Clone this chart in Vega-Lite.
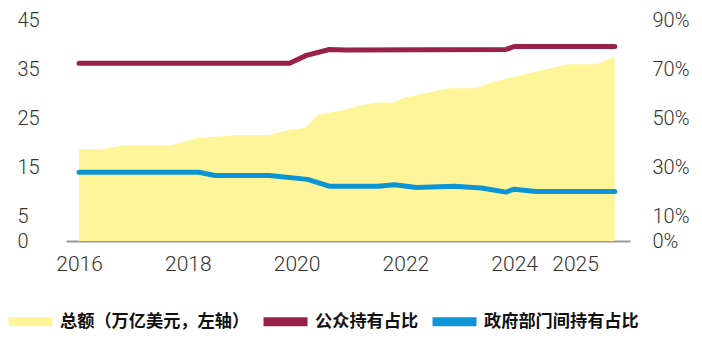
{
  "$schema": "https://vega.github.io/schema/vega-lite/v6.json",
  "width": 564,
  "height": 221,
  "autosize": "none",
  "padding": {"left": 66, "top": 20, "right": 72, "bottom": 98},
  "background": "white",
  "config": {
    "view": {"stroke": null},
    "axis": {"grid": false, "ticks": false, "title": null, "labelFont": "Roboto", "labelFontWeight": 300, "labelFontSize": 20, "labelColor": "#333333"},
    "legend": {
      "orient": "none", "legendX": -62, "legendY": 275, "direction": "horizontal",
      "symbolType": "stroke", "symbolSize": 1936, "symbolStrokeWidth": 9,
      "labelFont": "Noto Sans CJK SC", "labelFontSize": 17.2, "labelFontWeight": "bold", "labelColor": "#111111",
      "labelOffset": 3, "columnPadding": -5, "labelLimit": 400, "padding": 0
    }
  },
  "layer": [
    {
      "data": {"values": [
        {"year": 2016.0, "total": 18.7},
        {"year": 2016.42, "total": 18.7},
        {"year": 2016.8, "total": 19.5},
        {"year": 2017.7, "total": 19.5},
        {"year": 2018.15, "total": 20.9},
        {"year": 2018.9, "total": 21.6},
        {"year": 2019.5, "total": 21.6},
        {"year": 2019.85, "total": 22.6},
        {"year": 2020.15, "total": 23.0},
        {"year": 2020.4, "total": 25.7},
        {"year": 2020.9, "total": 26.8},
        {"year": 2021.2, "total": 27.7},
        {"year": 2021.5, "total": 28.2},
        {"year": 2021.8, "total": 28.2},
        {"year": 2021.95, "total": 29.1},
        {"year": 2022.8, "total": 31.1},
        {"year": 2023.3, "total": 31.1},
        {"year": 2023.6, "total": 32.4},
        {"year": 2024.4, "total": 34.5},
        {"year": 2025.0, "total": 36.0},
        {"year": 2025.5, "total": 36.0},
        {"year": 2025.85, "total": 37.5}
      ]},
      "mark": {"type": "area", "opacity": 1},
      "encoding": {
        "x": {"field": "year", "type": "quantitative", "scale": {"domain": [2015.76, 2026.13], "nice": false, "zero": false},
          "axis": {"orient": "bottom", "values": [2016, 2018, 2020, 2022, 2024, 2025.12], "format": "d", "domainColor": "#999999", "domainWidth": 2, "labelPadding": 12, "labelFontSize": 21}},
        "y": {"field": "total", "type": "quantitative", "scale": {"domain": [0, 45], "nice": false},
          "axis": {"orient": "left", "values": [0, 5, 15, 25, 35, 45], "domain": false, "labelAlign": "left", "labelPadding": 49}},
        "color": {"datum": "总额（万亿美元，左轴）", "type": "nominal",
          "scale": {"domain": ["总额（万亿美元，左轴）", "公众持有占比", "政府部门间持有占比"], "range": ["#FEF59B", "#9A2248", "#0C95D4"]},
          "legend": {
            "title": null,
            "encode": {"symbols": {"update": {"stroke": {"scale": "color", "field": "value"}, "fill": {"value": "transparent"}, "strokeWidth": {"value": 9}, "shape": {"value": "stroke"}, "size": {"value": 1936}, "opacity": {"value": 1}}}}
          }}
      }
    },
    {
      "data": {"values": [
        {"year": 2016.0, "series": "公众持有占比", "pct": 0.724},
        {"year": 2019.87, "series": "公众持有占比", "pct": 0.724},
        {"year": 2020.18, "series": "公众持有占比", "pct": 0.756},
        {"year": 2020.6, "series": "公众持有占比", "pct": 0.780},
        {"year": 2020.92, "series": "公众持有占比", "pct": 0.778},
        {"year": 2023.85, "series": "公众持有占比", "pct": 0.780},
        {"year": 2024.0, "series": "公众持有占比", "pct": 0.792},
        {"year": 2025.85, "series": "公众持有占比", "pct": 0.792},
        {"year": 2016.0, "series": "政府部门间持有占比", "pct": 0.280},
        {"year": 2018.2, "series": "政府部门间持有占比", "pct": 0.280},
        {"year": 2018.5, "series": "政府部门间持有占比", "pct": 0.267},
        {"year": 2019.5, "series": "政府部门间持有占比", "pct": 0.267},
        {"year": 2020.2, "series": "政府部门间持有占比", "pct": 0.251},
        {"year": 2020.6, "series": "政府部门间持有占比", "pct": 0.223},
        {"year": 2021.5, "series": "政府部门间持有占比", "pct": 0.223},
        {"year": 2021.8, "series": "政府部门间持有占比", "pct": 0.229},
        {"year": 2022.2, "series": "政府部门间持有占比", "pct": 0.218},
        {"year": 2022.9, "series": "政府部门间持有占比", "pct": 0.223},
        {"year": 2023.4, "series": "政府部门间持有占比", "pct": 0.216},
        {"year": 2023.85, "series": "政府部门间持有占比", "pct": 0.199},
        {"year": 2024.0, "series": "政府部门间持有占比", "pct": 0.211},
        {"year": 2024.4, "series": "政府部门间持有占比", "pct": 0.202},
        {"year": 2025.85, "series": "政府部门间持有占比", "pct": 0.202}
      ]},
      "mark": {"type": "line", "strokeWidth": 5, "strokeCap": "round", "strokeJoin": "round"},
      "encoding": {
        "x": {"field": "year", "type": "quantitative"},
        "y": {"field": "pct", "type": "quantitative", "scale": {"domain": [0, 0.9], "nice": false},
          "axis": {"orient": "right", "values": [0, 0.1, 0.3, 0.5, 0.7, 0.9], "format": ".0%", "domain": false, "labelAlign": "left", "labelPadding": 22}},
        "color": {"field": "series", "type": "nominal",
          "legend": {
            "title": null,
            "encode": {"symbols": {"update": {"stroke": {"scale": "color", "field": "value"}, "fill": {"value": "transparent"}, "strokeWidth": {"value": 9}, "shape": {"value": "stroke"}, "size": {"value": 1936}, "opacity": {"value": 1}}}}
          }}
      }
    }
  ],
  "resolve": {"scale": {"y": "independent"}, "axis": {"y": "independent"}}
}
